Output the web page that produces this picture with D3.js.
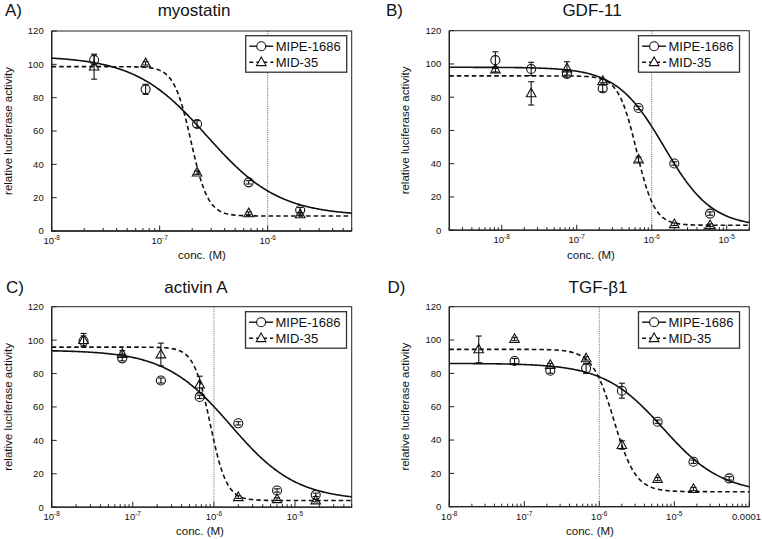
<!DOCTYPE html>
<html>
<head>
<meta charset="utf-8">
<script src="https://cdn.jsdelivr.net/npm/d3@7/dist/d3.min.js"></script>
<style>
  html, body { margin: 0; padding: 0; background: #fff; }
  svg { display: block; }
  text { font-family: "Liberation Sans", Arial, Helvetica, sans-serif; fill: #111; }
</style>
</head>
<body>
<svg id="chart" width="762" height="539"></svg>
<script>
// ---------------- DATA ----------------
const panelLabels = ["A)", "B)", "C)", "D)"];
const panelTitles = ["myostatin", "GDF-11", "activin A", "TGF-\u03B21"];
const seriesNames = ["MIPE-1686", "MID-35"];
const yTicks = [0, 20, 40, 60, 80, 100, 120];

// A) myostatin
const concA = [2.47e-8, 7.41e-8, 2.22e-7, 6.67e-7, 2e-6];
const mipeA = [102.6, 85, 64.2, 29.2, 12.6];
const mipeErrA = [3, 3, 2, 1, 1.5];
const midA = [98.6, 100.6, 35, 10.6, 10];
const midErrA = [7.5, 1, 1, 0.8, 0.8];
const fitMipeA = [105, 9, 2.74e-7, 1.3];   // top, bottom, IC50, Hill
const fitMidA = [98.6, 9, 1.95e-7, 5.5];

// B) GDF-11
const concB = [8.23e-9, 2.47e-8, 7.41e-8, 2.22e-7, 6.67e-7, 2e-6, 6e-6];
const mipeB = [102.3, 97, 94, 85.3, 73.5, 40.1, 10];
const mipeErrB = [5, 4, 2, 2, 1, 1, 1];
const midB = [96.7, 82.3, 97.3, 89.7, 42.5, 3.6, 3];
const midErrB = [1.5, 7, 4, 1, 1.5, 0.8, 0.8];
const fitMipeB = [98, 2, 1.47e-6, 1.37];
const fitMidB = [92.8, 3, 6.27e-7, 3.6];

// C) activin A
const concC = [2.47e-8, 7.41e-8, 2.22e-7, 6.67e-7, 2e-6, 6e-6, 1.8e-5];
const mipeC = [99.5, 89.1, 75.8, 66, 50.2, 10, 7.4];
const mipeErrC = [3, 1.5, 1.5, 1, 1, 1, 1];
const midC = [100, 91.7, 91.4, 73.4, 6, 4.8, 4];
const midErrC = [4, 2, 6.8, 5, 0.8, 0.8, 0.8];
const fitMipeC = [94, 4, 1.61e-6, 1.07];
const fitMidC = [95.8, 4, 9e-7, 4.3];

// D) TGF-beta1
const concMipeD = [7.41e-8, 2.22e-7, 6.67e-7, 2e-6, 6e-6, 1.8e-5, 5.4e-5];
const mipeD = [87.4, 81.6, 83, 69.6, 51, 27, 17];
const mipeErrD = [1.5, 1.5, 3, 4.5, 1, 1, 1];
const concMidD = [2.47e-8, 7.41e-8, 2.22e-7, 6.67e-7, 2e-6, 6e-6, 1.8e-5];
const midD = [94.4, 100.6, 85, 89, 37, 16.6, 10.6];
const midErrD = [8, 1, 1, 1, 2.5, 1, 1];
const fitMipeD = [86, 8, 7.1e-6, 1.1];
const fitMidD = [94.4, 9, 1.57e-6, 3.0];

// x domains (M)
const xDomains = [[1e-8, 6e-6], [2e-9, 2e-5], [1e-8, 5e-5], [1e-8, 1e-4]];
const refLine = 1e-6;

// ---------------- LAYOUT ----------------
const panels = [
  { box: [51.7, 31, 351.7, 231], title: [194, 16], label: [5, 16], ylab: 7.5, xlab: [202, 259],
    mipe: { x: concA, y: mipeA, e: mipeErrA, fit: fitMipeA }, mid: { x: concA, y: midA, e: midErrA, fit: fitMidA }, legend: [245.7, 35.7] },
  { box: [449.3, 30.7, 749.3, 230.2], title: [592, 16], label: [386, 16], ylab: 404.5, xlab: [591, 259],
    mipe: { x: concB, y: mipeB, e: mipeErrB, fit: fitMipeB }, mid: { x: concB, y: midB, e: midErrB, fit: fitMidB }, legend: [638.5, 35.7] },
  { box: [51.7, 306.7, 351.7, 507.2], title: [196, 293], label: [6, 293], ylab: 7.5, xlab: [200, 535],
    mipe: { x: concC, y: mipeC, e: mipeErrC, fit: fitMipeC }, mid: { x: concC, y: midC, e: midErrC, fit: fitMidC }, legend: [245.5, 311.7] },
  { box: [449.3, 306.7, 749.3, 506.7], title: [598, 293], label: [387.5, 293], ylab: 404.5, xlab: [590, 535],
    mipe: { x: concMipeD, y: mipeD, e: mipeErrD, fit: fitMipeD }, mid: { x: concMidD, y: midD, e: midErrD, fit: fitMidD }, legend: [638.5, 311.7] }
];

const svg = d3.select("#chart");

function logistic(p, x) { return p[1] + (p[0] - p[1]) / (1 + Math.pow(x / p[2], p[3])); }

function triPath(cx, cy) {
  return `M${cx},${cy - 5.2}L${cx + 4.8},${cy + 3.4}L${cx - 4.8},${cy + 3.4}Z`;
}

panels.forEach((P, i) => {
  const [x0, y0, x1, y1] = P.box;
  const dom = xDomains[i];
  const x = d3.scaleLog().domain(dom).range([x0, x1]);
  const y = d3.scaleLinear().domain([0, 120]).range([y1, y0]);
  const g = svg.append("g");

  // panel label & title
  g.append("text").attr("x", P.label[0]).attr("y", P.label[1]).attr("font-size", 17).text(panelLabels[i]);
  g.append("text").attr("x", P.title[0]).attr("y", P.title[1]).attr("font-size", 17)
    .attr("text-anchor", "middle").text(panelTitles[i]);

  // axis titles
  g.append("text").attr("transform", `translate(${P.ylab + 4},${(y0 + y1) / 2}) rotate(-90)`)
    .attr("text-anchor", "middle").attr("font-size", 11.5).text("relative luciferase activity");
  g.append("text").attr("x", P.xlab[0]).attr("y", P.xlab[1]).attr("text-anchor", "middle")
    .attr("font-size", 11.5).text("conc. (M)");

  // y ticks
  yTicks.forEach(v => {
    g.append("line").attr("x1", x0).attr("x2", x0 + 5).attr("y1", y(v)).attr("y2", y(v))
      .attr("stroke", "#222").attr("stroke-width", 1);
    g.append("text").attr("x", x0 - 8).attr("y", y(v) + 3.4).attr("text-anchor", "end")
      .attr("font-size", 9.5).text(v);
  });

  // x ticks (major & minor, inward)
  const lo = Math.floor(Math.log10(dom[0])), hi = Math.ceil(Math.log10(dom[1]));
  for (let e = lo; e <= hi; e++) {
    for (let m = 1; m <= 9; m++) {
      const v = m * Math.pow(10, e);
      if (v < dom[0] * 0.999 || v > dom[1] * 1.001) continue;
      const major = m === 1;
      g.append("line").attr("x1", x(v)).attr("x2", x(v)).attr("y1", y1).attr("y2", y1 - (major ? 5.5 : 3))
        .attr("stroke", "#222").attr("stroke-width", 1);
      if (major) {
        const t = g.append("text").attr("x", x(v)).attr("y", y1 + 13).attr("text-anchor", "middle")
          .attr("font-size", 9.5);
        if (e === -4) {
          t.attr("x", 761).attr("text-anchor", "end").text("0.0001");
        } else {
          t.append("tspan").text("10");
          t.append("tspan").attr("font-size", 6.5).attr("dy", -4).text(String(e));
        }
      }
    }
  }

  // reference dotted line at 1e-6
  g.append("line").attr("x1", x(refLine)).attr("x2", x(refLine)).attr("y1", y0).attr("y2", y1)
    .attr("stroke", "#666").attr("stroke-width", 1).attr("stroke-dasharray", "1,1.2");

  // frame
  g.append("rect").attr("x", x0).attr("y", y0).attr("width", x1 - x0).attr("height", y1 - y0)
    .attr("fill", "none").attr("stroke", "#222").attr("stroke-width", 1);
  g.append("path").attr("d", `M${x0},${y0}V${y1}H${x1}`).attr("fill", "none")
    .attr("stroke", "#222").attr("stroke-width", 1.3);

  // fitted curves
  const lgx = d3.range(0, 301).map(k => Math.pow(10, Math.log10(dom[0]) + k / 300 * (Math.log10(dom[1]) - Math.log10(dom[0]))));
  const line = d3.line().x(d => x(d[0])).y(d => y(d[1]));
  g.append("path").attr("d", line(lgx.map(c => [c, logistic(P.mipe.fit, c)])))
    .attr("fill", "none").attr("stroke", "#111").attr("stroke-width", 1.6);
  g.append("path").attr("d", line(lgx.map(c => [c, logistic(P.mid.fit, c)])))
    .attr("fill", "none").attr("stroke", "#111").attr("stroke-width", 1.6).attr("stroke-dasharray", "4.5,3");

  // error bars & markers
  function drawSeries(S, shape) {
    S.x.forEach((c, k) => {
      const cx = x(c), cy = y(S.y[k]), e = S.e[k];
      const ya = y(S.y[k] + e), yb = y(S.y[k] - e);
      g.append("line").attr("x1", cx).attr("x2", cx).attr("y1", ya).attr("y2", yb)
        .attr("stroke", "#111").attr("stroke-width", 1.1);
      [ya, yb].forEach(yy => g.append("line").attr("x1", cx - 3).attr("x2", cx + 3).attr("y1", yy).attr("y2", yy)
        .attr("stroke", "#111").attr("stroke-width", 1.1));
      if (shape === "circle") {
        g.append("circle").attr("cx", cx).attr("cy", cy).attr("r", 4.5)
          .attr("fill", "none").attr("stroke", "#111").attr("stroke-width", 1.1);
      } else {
        g.append("path").attr("d", triPath(cx, cy)).attr("fill", "none")
          .attr("stroke", "#111").attr("stroke-width", 1.1);
      }
    });
  }
  drawSeries(P.mipe, "circle");
  drawSeries(P.mid, "tri");

  // legend
  const [lx, ly] = P.legend;
  const lg = g.append("g");
  lg.append("rect").attr("x", lx).attr("y", ly).attr("width", 101).attr("height", 36.5)
    .attr("fill", "#fff").attr("stroke", "#333").attr("stroke-width", 1.3);
  seriesNames.forEach((name, k) => {
    const ry = ly + 10.5 + k * 16;
    lg.append("line").attr("x1", lx + 3.6).attr("x2", lx + 27.6).attr("y1", ry).attr("y2", ry)
      .attr("stroke", "#111").attr("stroke-width", 1.4)
      .attr("stroke-dasharray", k === 1 ? "4,3" : null);
    if (k === 0) {
      lg.append("circle").attr("cx", lx + 15.6).attr("cy", ry).attr("r", 4.5)
        .attr("fill", "#fff").attr("stroke", "#111").attr("stroke-width", 1.1);
    } else {
      lg.append("path").attr("d", triPath(lx + 15.6, ry)).attr("fill", "#fff")
        .attr("stroke", "#111").attr("stroke-width", 1.1);
    }
    lg.append("text").attr("x", lx + 30).attr("y", ry + 4.6).attr("font-size", 13).text(name);
  });
});
</script>
</body>
</html>
